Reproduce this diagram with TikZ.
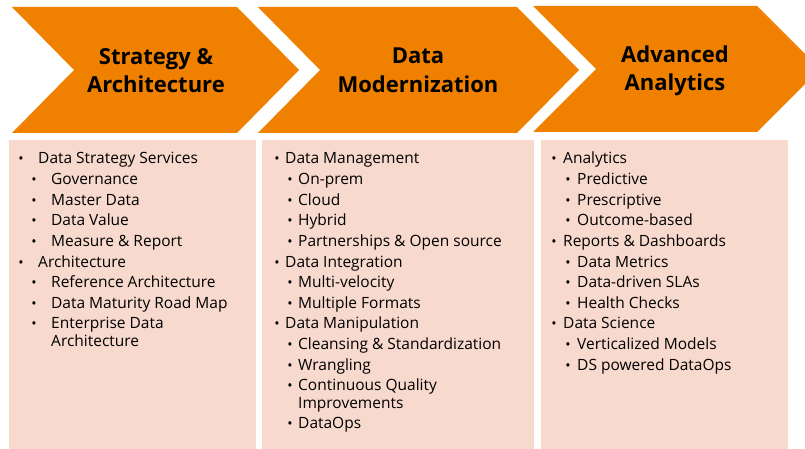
\documentclass[tikz,border=0pt]{standalone}
\usepackage{fontspec}
\setmainfont{Open Sans}
\definecolor{chev}{RGB}{240,128,0}
\definecolor{boxfill}{RGB}{248,217,206}
\begin{document}
\begin{tikzpicture}[x=1pt,y=-1pt,
  chevshape/.style={fill=chev,draw=none},
  panel/.style={fill=boxfill,draw=none},
  head/.style={font=\fontsize{22}{26}\selectfont\bfseries,anchor=base,inner sep=0pt},
  item/.style={font=\fontsize{15.5}{18}\selectfont,anchor=base west,inner sep=0pt},
  bul/.style={font=\fontsize{14}{16}\selectfont,anchor=base,inner sep=0pt}]
\useasboundingbox (0,0) rectangle (805,449);
\clip (0,0) rectangle (805,449);
% chevrons
\fill[chevshape] (12,7) -- (237,7) -- (299,70) -- (237,133) -- (12,133) -- (74,70) -- cycle;
\fill[chevshape] (258,7) -- (517,7) -- (579,70) -- (517,133) -- (258,133) -- (320,70) -- cycle;
\fill[chevshape] (533,6) -- (757,6) -- (820,69) -- (757,132) -- (533,132) -- (596,69) -- cycle;
% headings
\node[head] (h1a) at (156,65) {Strategy \&};
\node[head] (h1b) at (156,93) {Architecture};
\node[head] (h2a) at (418,64) {Data};
\node[head] (h2b) at (418,93) {Modernization};
\node[head] (h3a) at (675,63) {Advanced};
\node[head] (h3b) at (675,91) {Analytics};
% panels
\fill[panel] (9,140) rectangle (256,449);
\fill[panel] (262,140) rectangle (534,449);
\fill[panel] (541,140) rectangle (788,449);
% column 1
\foreach \t/\lvl/\y [count=\i] in {
  {Data Strategy Services}/0/164,
  {Governance}/1/184.6,
  {Master Data}/1/205.2,
  {Data Value}/1/225.8,
  {Measure \& Report}/1/246.4,
  {Architecture}/0/267,
  {Reference Architecture}/1/287.6,
  {Data Maturity Road Map}/1/308.2,
  {Enterprise Data}/1/328.8}{
  \ifnum\lvl=0
    \node[bul] (ab\i) at (21,\y) {•};
    \node[item] (at\i) at (38,\y) {\t};
  \else
    \node[bul] (ab\i) at (34,\y) {•};
    \node[item] (at\i) at (51,\y) {\t};
  \fi
}
\node[item] (at10) at (51,346.3) {Architecture};
% column 2
\foreach \t/\lvl/\y [count=\i] in {
  {Data Management}/0/164,
  {On-prem}/1/184.6,
  {Cloud}/1/205.2,
  {Hybrid}/1/225.8,
  {Partnerships \& Open source}/1/246.4,
  {Data Integration}/0/267,
  {Multi-velocity}/1/287.6,
  {Multiple Formats}/1/308.2,
  {Data Manipulation}/0/328.8,
  {Cleansing \& Standardization}/1/349.4,
  {Wrangling}/1/370,
  {Continuous Quality}/1/390.6,
  {DataOps}/1/428.7}{
  \ifnum\lvl=0
    \node[bul] (bb\i) at (277,\y) {•};
    \node[item] (bt\i) at (285,\y) {\t};
  \else
    \node[bul] (bb\i) at (290,\y) {•};
    \node[item] (bt\i) at (298,\y) {\t};
  \fi
}
\node[item] (bt14) at (298,408.1) {Improvements};
% column 3
\foreach \t/\lvl/\y [count=\i] in {
  {Analytics}/0/164,
  {Predictive}/1/184.6,
  {Prescriptive}/1/205.2,
  {Outcome-based}/1/225.8,
  {Reports \& Dashboards}/0/246.4,
  {Data Metrics}/1/267,
  {Data-driven SLAs}/1/287.6,
  {Health Checks}/1/308.2,
  {Data Science}/0/328.8,
  {Verticalized Models}/1/349.4,
  {DS powered DataOps}/1/370}{
  \ifnum\lvl=0
    \node[bul] (cb\i) at (554,\y) {•};
    \node[item] (ct\i) at (563,\y) {\t};
  \else
    \node[bul] (cb\i) at (568,\y) {•};
    \node[item] (ct\i) at (577,\y) {\t};
  \fi
}
\end{tikzpicture}
\end{document}
